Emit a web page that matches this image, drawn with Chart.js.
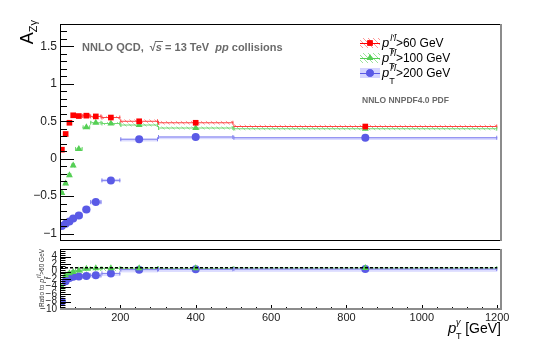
<!DOCTYPE html>
<html>
<head>
<meta charset="utf-8">
<script src="https://cdn.jsdelivr.net/npm/chart.js@4/dist/chart.umd.min.js"></script>
<style>
  html, body { margin: 0; padding: 0; background: #fff; }
  #wrap { position: relative; width: 556px; height: 353px; }
  canvas { position: absolute; left: 0; }
  #main { top: 0; }
  #ratio { top: 245px; }
</style>
</head>
<body>
<div id="wrap">
  <canvas id="main" width="556" height="245"></canvas>
  <canvas id="ratio" width="556" height="108"></canvas>
</div>
<script>
// photon pT bins [GeV]
const binLow = [40, 50, 60, 70, 80, 100, 120, 150, 200, 300, 500];
const binHigh = [50, 60, 70, 80, 100, 120, 150, 200, 300, 500, 1200];
const binCenter = [45, 55, 65, 75, 90, 110, 135, 175, 250, 400, 850];

// A_Zgamma for the three cuts on pT(ll)
const azg60 = [0.12, 0.33, 0.48, 0.58, 0.57, 0.575, 0.565, 0.55, 0.50, 0.48, 0.43];
const azg100 = [-0.46, -0.33, -0.22, -0.09, 0.13, 0.42, 0.48, 0.47, 0.45, 0.41, 0.40];
const azg200 = [-0.90, -0.87, -0.84, -0.80, -0.76, -0.68, -0.58, -0.29, 0.26, 0.29, 0.28];
const err60 = [0.01, 0.01, 0.01, 0.01, 0.01, 0.015, 0.015, 0.02, 0.025, 0.025, 0.025];
const err100 = [0.02, 0.02, 0.02, 0.02, 0.02, 0.02, 0.02, 0.02, 0.02, 0.02, 0.02];
const err200 = [0.04, 0.04, 0.04, 0.04, 0.04, 0.04, 0.03, 0.02, 0.01, 0.01, 0.01];

// ratio to pT(ll) > 60 GeV
const ratio100 = [-4.2, -1.0, -0.45, -0.15, 0.25, 0.73, 0.85, 0.86, 0.9, 0.86, 0.93];
const ratio200 = [-8.0, -2.6, -1.75, -1.4, -1.3, -1.2, -1.0, -0.5, 0.5, 0.6, 0.65];
const ratioErr100 = [0.3, 0.15, 0.1, 0.08, 0.06, 0.05, 0.05, 0.05, 0.05, 0.05, 0.05];
const ratioErr200 = [0.5, 0.3, 0.2, 0.15, 0.12, 0.1, 0.1, 0.08, 0.06, 0.06, 0.06];
const refLine = [{x: 40, y: 1}, {x: 1200, y: 1}];

const yTicksMain = [-1, -0.5, 0, 0.5, 1, 1.5];
const yTicksRatio = [-10, -8, -6, -4, -2, 0, 2, 4];
const xTicks = [200, 400, 600, 800, 1000, 1200];

const RED = '#ff0000', GREEN = '#55cf55', BLUE = '#5a5ae6';
const FONT = 'Liberation Sans, Arial, sans-serif';

function pts(vals) {
  return binCenter.map((x, i) => ({x: x, y: vals[i]}));
}

function hatch(ctx, color) {
  const c = document.createElement('canvas');
  c.width = 5; c.height = 5;
  const g = c.getContext('2d');
  g.strokeStyle = color;
  g.lineWidth = 0.9;
  g.beginPath();
  g.moveTo(-1, -1); g.lineTo(6, 6);
  g.stroke();
  return ctx.createPattern(c, 'repeat');
}

// bin widths, uncertainty bands and error bars, all through the scales
const binsPlugin = {
  id: 'bins',
  beforeDatasetsDraw(chart) {
    const {ctx, chartArea: a, scales: {x, y}} = chart;
    ctx.save();
    ctx.beginPath();
    ctx.rect(a.left, a.top, a.right - a.left, a.bottom - a.top);
    ctx.clip();
    chart.data.datasets.forEach(ds => {
      if (!ds.err) return;
      const fill = ds.hatch ? hatch(ctx, ds.hatch) : ds.bandColor;
      ds.data.forEach((p, i) => {
        const x0 = x.getPixelForValue(binLow[i]);
        const x1 = x.getPixelForValue(binHigh[i]);
        const xc = x.getPixelForValue(p.x);
        const yc = y.getPixelForValue(p.y);
        const yt = y.getPixelForValue(p.y + ds.err[i]);
        const yb = y.getPixelForValue(p.y - ds.err[i]);
        ctx.fillStyle = fill;
        ctx.fillRect(x0, yt, x1 - x0, Math.max(yb - yt, 3));
        ctx.strokeStyle = ds.barColor;
        ctx.lineWidth = 1;
        ctx.beginPath();
        ctx.moveTo(x0, yc); ctx.lineTo(x1, yc);
        ctx.moveTo(x0 + 0.5, yc - 2); ctx.lineTo(x0 + 0.5, yc + 2);
        ctx.moveTo(x1 - 0.5, yc - 2); ctx.lineTo(x1 - 0.5, yc + 2);
        ctx.moveTo(xc, yt); ctx.lineTo(xc, yb);
        ctx.stroke();
      });
    });
    ctx.restore();
  }
};

// ROOT-like frame with ticks pointing inside
function drawFrame(chart, o) {
  const {ctx, chartArea: a, scales: {x, y}} = chart;
  ctx.save();
  ctx.lineWidth = 1;
  ctx.strokeStyle = '#000';
  ctx.beginPath();
  for (let v = o.yMinorFrom; v <= y.max + 1e-9; v += o.yMinor) {
    const py = Math.round(y.getPixelForValue(v)) + 0.5;
    if (py < a.top || py > a.bottom) continue;
    const major = o.yMajor.some(m => Math.abs(m - v) < 1e-6);
    ctx.moveTo(a.left, py);
    ctx.lineTo(a.left + (major ? o.yLen : o.yLen / 2), py);
  }
  if (o.xLen) {
    for (let v = 40; v <= 1200; v += 40) {
      const px = Math.round(x.getPixelForValue(v)) + 0.5;
      const major = xTicks.includes(v);
      ctx.moveTo(px, a.bottom);
      ctx.lineTo(px, a.bottom - (major ? o.xLen : o.xLen / 2));
    }
  }
  ctx.stroke();
  ctx.beginPath();
  ctx.moveTo(a.left + 0.5, a.bottom);
  ctx.lineTo(a.left + 0.5, a.top + 0.5);
  ctx.lineTo(a.right, a.top + 0.5);
  if (!o.grayBottom) {
    ctx.moveTo(a.left, a.bottom - 0.5);
    ctx.lineTo(a.right, a.bottom - 0.5);
  }
  ctx.stroke();
  ctx.strokeStyle = '#8c8c8c';
  ctx.lineWidth = 2;
  ctx.beginPath();
  ctx.moveTo(a.right, a.top);
  ctx.lineTo(a.right, a.bottom);
  if (o.grayBottom) {
    ctx.lineTo(a.left, a.bottom);
  }
  ctx.stroke();
  ctx.restore();
}

function put(ctx, s, x, y, font, color) {
  ctx.font = font;
  ctx.fillStyle = color;
  ctx.fillText(s, x, y);
  return ctx.measureText(s).width;
}

// "p" with superscript ll-bar and subscript T, returns width
function pll(ctx, x, y, size, color) {
  let w = put(ctx, 'p', x, y, 'italic ' + size + 'px ' + FONT, color);
  const s = Math.round(size * 0.72);
  const ws = put(ctx, 'l\u2032l\u0304', x + w + 1, y - size * 0.45, 'italic ' + s + 'px ' + FONT, color);
  const wt = put(ctx, 'T', x + w, y + size * 0.5, s + 'px ' + FONT, color);
  return w + 1 + Math.max(ws, wt);
}

function legendKey(ctx, x, y, color, fill, style) {
  ctx.fillStyle = fill;
  ctx.fillRect(x, y - 5, 20, 10);
  ctx.strokeStyle = color;
  ctx.lineWidth = 1;
  ctx.beginPath();
  ctx.moveTo(x, y + 0.5); ctx.lineTo(x + 20, y + 0.5);
  ctx.stroke();
  ctx.fillStyle = color;
  Chart.helpers.drawPoint(ctx, {pointStyle: style, radius: 3.8, borderWidth: 0}, x + 10, y);
  ctx.fill();
}

const mainText = {
  id: 'mainText',
  afterDraw(chart) {
    const ctx = chart.ctx;
    drawFrame(chart, {yMajor: yTicksMain, yMinor: 0.1, yMinorFrom: -1.1, yLen: 14});
    ctx.save();
    ctx.textBaseline = 'alphabetic';
    // y title, reading upwards
    ctx.save();
    ctx.translate(33, 20);
    ctx.rotate(-Math.PI / 2);
    ctx.font = '11px ' + FONT;
    const wSub = ctx.measureText('Z\u03b3').width;
    ctx.font = '18px ' + FONT;
    const wA = ctx.measureText('A').width;
    put(ctx, 'A', -wSub - wA, 0, '18px ' + FONT, '#000');
    put(ctx, 'Z\u03b3', -wSub, 4, '11px ' + FONT, '#000');
    ctx.restore();

    // header
    const g = '#6a6a6a';
    const b = 'bold 11px ' + FONT;
    let x = 82, y = 51;
    x += put(ctx, 'NNLO QCD,  ', x, y, b, g);
    x += put(ctx, '\u221a', x, y, b, g);
    const ws = put(ctx, 's', x, y, 'bold italic 11px ' + FONT, g);
    ctx.fillRect(x - 1, y - 10, ws + 2, 1);
    x += ws;
    x += put(ctx, ' = 13 TeV  ', x, y, b, g);
    x += put(ctx, 'pp', x, y, 'bold italic 11px ' + FONT, g);
    put(ctx, ' collisions', x, y, b, g);

    put(ctx, 'NNLO NNPDF4.0 PDF', 362, 103, 'bold 8.5px ' + FONT, g);

    // legend
    const rows = [
      {y: 43, c: RED, f: hatch(ctx, '#ff8c8c'), s: 'rect', t: '>60 GeV'},
      {y: 58, c: GREEN, f: hatch(ctx, '#8fe08f'), s: 'triangle', t: '>100 GeV'},
      {y: 73, c: BLUE, f: '#d4d4ff', s: 'circle', t: '>200 GeV'}
    ];
    rows.forEach(r => {
      ctx.save();
      legendKey(ctx, 360, r.y, r.c, r.f, r.s);
      ctx.restore();
      const w = pll(ctx, 382, r.y + 4, 13, '#000');
      put(ctx, r.t, 382 + w, r.y + 4, '12px ' + FONT, '#000');
    });
    ctx.restore();
  }
};

const ratioText = {
  id: 'ratioText',
  afterDraw(chart) {
    const ctx = chart.ctx;
    drawFrame(chart, {yMajor: yTicksRatio, yMinor: 0.5, yMinorFrom: -10, yLen: 11, xLen: 4, grayBottom: true});
    ctx.save();
    // x title
    let x = 448, y = 88;
    put(ctx, 'p', x, y, 'italic 15px ' + FONT, '#000');
    put(ctx, '\u03b3', x + 8, y - 8, 'italic 9px ' + FONT, '#000');
    put(ctx, 'T', x + 8, y + 6, '9px ' + FONT, '#000');
    ctx.textAlign = 'right';
    put(ctx, '[GeV]', 501, y, '14px ' + FONT, '#000');
    ctx.textAlign = 'left';

    // y title, tiny and rotated
    ctx.save();
    ctx.translate(44, 62);
    ctx.rotate(-Math.PI / 2);
    const c = '#333';
    let t = 0;
    t += put(ctx, 'Ratio to ', t, 0, '6.5px ' + FONT, c);
    t += pll(ctx, t, 0, 7, c);
    put(ctx, '>60 GeV', t, 0, '6.5px ' + FONT, c);
    ctx.restore();
    ctx.restore();
  }
};

const fmt = v => (v < 0 ? '\u2212' : '') + Math.abs(v);
// keep the chart area exactly where the layout padding puts it
const noPad = s => { s.paddingTop = 0; s.paddingBottom = 0; s.paddingLeft = 0; s.paddingRight = 0; };

const mainDatasets = [
  {data: pts(azg60), err: err60, hatch: '#ff8c8c', barColor: '#ff4040',
   pointStyle: 'rect', pointRadius: 4, backgroundColor: RED, borderWidth: 0, showLine: false, order: 1},
  {data: pts(azg100), err: err100, hatch: '#8fe08f', barColor: '#6fd86f',
   pointStyle: 'triangle', pointRadius: 4, backgroundColor: GREEN, borderWidth: 0, showLine: false, order: 2},
  {data: pts(azg200), err: err200, bandColor: '#dcdcff', barColor: '#8080ee',
   pointStyle: 'circle', pointRadius: 4, backgroundColor: BLUE, borderWidth: 0, showLine: false, order: 3}
];

const ratioDatasets = [
  {data: refLine, showLine: true, borderColor: '#000', borderWidth: 1.3, borderDash: [3, 2],
   pointRadius: 0, order: 0},
  {data: pts(ratio100), err: ratioErr100, hatch: '#8fe08f', barColor: '#6fd86f',
   pointStyle: 'triangle', pointRadius: 4, backgroundColor: GREEN, borderWidth: 0, showLine: false, order: 2},
  {data: pts(ratio200), err: ratioErr200, bandColor: '#dcdcff', barColor: '#8080ee',
   pointStyle: 'circle', pointRadius: 4, backgroundColor: BLUE, borderWidth: 0, showLine: false, order: 3}
];

const common = {
  responsive: false,
  animation: false,
  events: [],
  plugins: {legend: {display: false}, tooltip: {enabled: false}}
};

new Chart(document.getElementById('main'), {
  type: 'scatter',
  data: {datasets: mainDatasets},
  options: Object.assign({}, common, {
    layout: {padding: {left: 0, top: 24, right: 55, bottom: -1}},
    scales: {
      x: {type: 'linear', min: 40, max: 1210, display: false},
      y: {
        type: 'linear', min: -1.1, max: 1.8,
        afterFit(s) { s.width = 60; noPad(s); },
        afterBuildTicks(s) { s.ticks = yTicksMain.map(v => ({value: v})); },
        grid: {display: false, drawTicks: false},
        border: {display: false},
        ticks: {padding: 3, autoSkip: false, color: '#222', font: {family: FONT, size: 12}, callback: fmt}
      }
    }
  }),
  plugins: [binsPlugin, mainText]
});

new Chart(document.getElementById('ratio'), {
  type: 'scatter',
  data: {datasets: ratioDatasets},
  options: Object.assign({}, common, {
    layout: {padding: {left: 0, top: 0, right: 55, bottom: 0}},
    scales: {
      x: {
        type: 'linear', min: 40, max: 1210,
        afterFit(s) { s.height = 44; noPad(s); },
        afterBuildTicks(s) { s.ticks = xTicks.map(v => ({value: v})); },
        grid: {display: false, drawTicks: false},
        border: {display: false},
        ticks: {padding: 2, maxRotation: 0, autoSkip: false, color: '#222',
                font: {family: FONT, size: 11}, callback: v => String(v)}
      },
      y: {
        type: 'linear', min: -10, max: 6,
        afterFit(s) { s.width = 60; noPad(s); },
        afterBuildTicks(s) { s.ticks = yTicksRatio.map(v => ({value: v})); },
        grid: {display: false, drawTicks: false},
        border: {display: false},
        ticks: {padding: 3, autoSkip: false, color: '#222', font: {family: FONT, size: 10}, callback: fmt}
      }
    }
  }),
  plugins: [binsPlugin, ratioText]
});
</script>
</body>
</html>
